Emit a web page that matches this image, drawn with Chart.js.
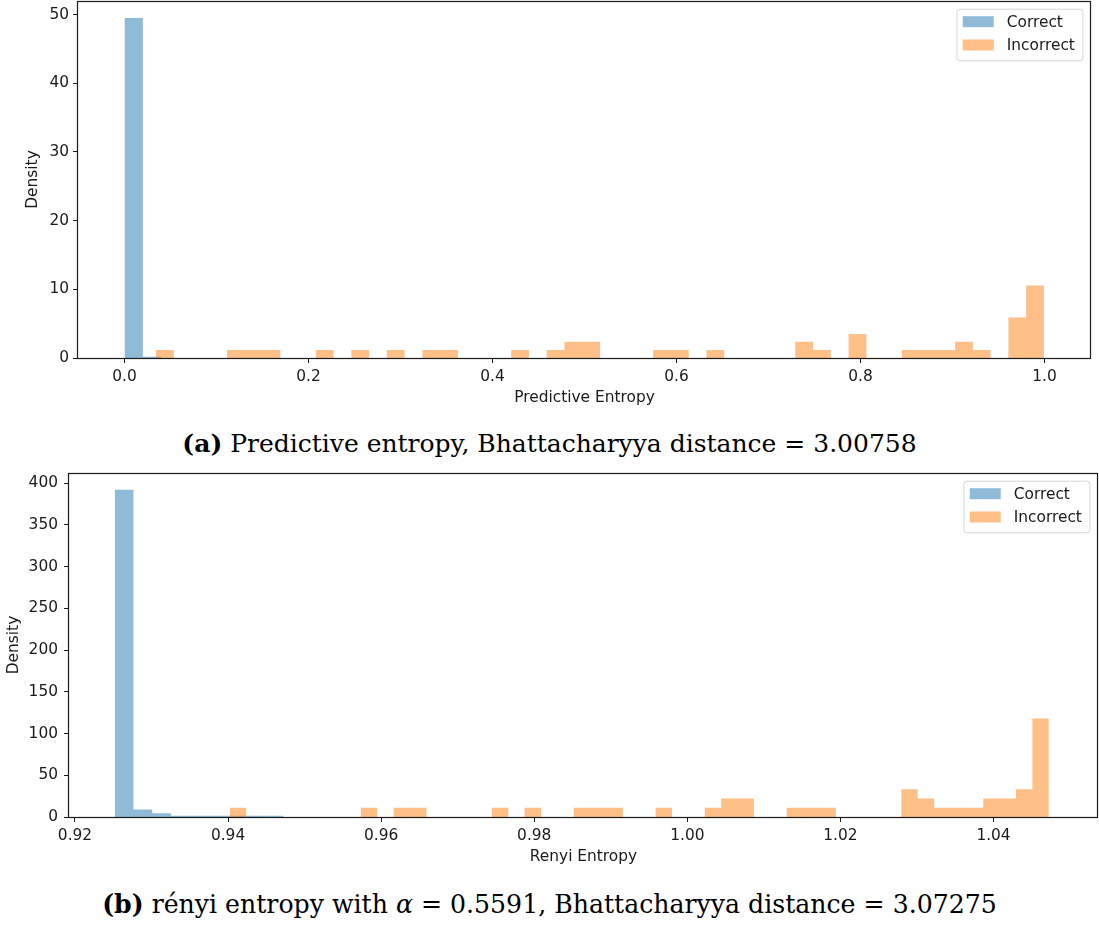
<!DOCTYPE html>
<html lang="en">
<head>
<meta charset="utf-8"/>
<title>Entropy histograms</title>
<script src="https://cdn.jsdelivr.net/npm/chart.js@4.4.0/dist/chart.umd.min.js"></script>
<style>
  body { margin: 0; background: #fff; width: 1099px; height: 931px; position: relative; overflow: hidden; }
  canvas { position: absolute; left: 0; }
  .caption { position: absolute; left: 0; width: 1099px; text-align: center; white-space: nowrap;
             font-family: "DejaVu Serif", serif; font-size: 25px; line-height: 30px; color: #000; }
</style>
</head>
<body>
<canvas id="peChart" width="1099" height="415" style="top:0px"></canvas>
<div class="caption" style="top:429px"><b>(a)</b> Predictive entropy, Bhattacharyya distance = 3.00758</div>
<canvas id="reChart" width="1099" height="404" style="top:470px"></canvas>
<div class="caption" style="top:889px; font-size:25.2px"><b>(b)</b> rényi entropy with <i>α</i> = 0.5591, Bhattacharyya distance = 3.07275</div>

<script>
const ink = '#1a1a1a';
const correctColor = 'rgba(31, 119, 180, 0.5)';
const incorrectColor = 'rgba(255, 127, 14, 0.5)';
const axisFont = { family: 'DejaVu Sans', size: 15.4 };

// predictive entropy, density per bin
const peCorrectStart = 0.0;
const peCorrectWidth = 0.02;
const peCorrect = [49.5, 0.2];
const peIncorrectStart = 0.0343;
const peIncorrectWidth = 0.0193;
const peIncorrect = [
  1.18, 0, 0, 0, 1.18, 1.18, 1.18, 0, 0, 1.18,
  0, 1.18, 0, 1.18, 0, 1.18, 1.18, 0, 0, 0,
  1.18, 0, 1.18, 2.35, 2.35, 0, 0, 0, 1.18, 1.18,
  0, 1.18, 0, 0, 0, 0, 2.35, 1.18, 0, 3.5,
  0, 0, 1.18, 1.18, 1.18, 2.35, 1.18, 0, 5.9, 10.55
];
const peTicks = [0, 0.2, 0.4, 0.6, 0.8, 1.0];

// renyi entropy, density per bin
const reCorrectStart = 0.92519;
const reCorrectWidth = 0.00245;
const reCorrect = [392, 8.9, 4.6, 1.5, 1.5, 1.5, 1.5, 1.5, 1.5];
const reIncorrectStart = 0.94022;
const reIncorrectWidth = 0.00214;
const reIncorrect = [
  11.1, 0, 0, 0, 0, 0, 0, 0, 11.1, 0,
  11.1, 11.1, 0, 0, 0, 0, 11.1, 0, 11.1, 0,
  0, 11.1, 11.1, 11.1, 0, 0, 11.1, 0, 0, 11.1,
  22.2, 22.2, 0, 0, 11.1, 11.1, 11.1, 0, 0, 0,
  0, 33.1, 22.2, 11.1, 11.1, 11.1, 22.2, 22.2, 33.1, 118
];
const reTicks = [0.92, 0.94, 0.96, 0.98, 1.00, 1.02, 1.04];

// histogram outline: one point per left bin edge, closed at the last right edge
function binEdges(start, width, heights) {
  const pts = heights.map((h, i) => ({ x: start + i * width, y: h }));
  pts.push({ x: start + heights.length * width, y: 0 });
  return pts;
}

// four spines drawn over the bars
const frame = {
  id: 'frame',
  afterDatasetsDraw(chart) {
    const { ctx, chartArea: a } = chart;
    const l = Math.round(a.left) - 0.5, t = Math.round(a.top) + 0.5;
    const r = Math.round(a.right) - 0.5, b = Math.round(a.bottom) + 0.5;
    ctx.save();
    ctx.strokeStyle = ink;
    ctx.lineWidth = 1.2;
    ctx.strokeRect(l, t, r - l, b - t);
    ctx.restore();
  }
};

// legend box in the upper right corner of the axes
const cornerLegend = {
  id: 'cornerLegend',
  afterDraw(chart) {
    const { ctx, chartArea: a } = chart;
    const sets = chart.data.datasets;
    ctx.save();
    ctx.font = axisFont.size + 'px "' + axisFont.family + '"';
    const textW = Math.max(...sets.map(d => ctx.measureText(d.label).width));
    const patchW = 31, patchH = 11, rowH = 23.3;
    const w = 6.3 + patchW + 13 + textW + 7.5;
    const h = 13 + rowH * (sets.length - 1) + 15.3;
    const x = a.right - 8.6 - w;
    const y = a.top + 7.7;
    ctx.beginPath();
    ctx.roundRect(x + 0.5, y + 0.5, w, h, 3);
    ctx.fillStyle = 'rgba(255,255,255,0.8)';
    ctx.fill();
    ctx.strokeStyle = '#d6d6d6';
    ctx.lineWidth = 1;
    ctx.stroke();
    sets.forEach((d, i) => {
      const cy = y + 13 + i * rowH;
      ctx.fillStyle = d.backgroundColor;
      ctx.fillRect(x + 6.3, cy - patchH / 2, patchW, patchH);
      ctx.fillStyle = ink;
      ctx.textBaseline = 'middle';
      ctx.fillText(d.label, x + 6.3 + patchW + 13, cy + 1);
    });
    ctx.restore();
  }
};

function histogram(id, cfg) {
  const tickMarks = { drawOnChartArea: false, drawTicks: true, tickLength: 5, color: ink, lineWidth: 1, offset: false };
  const bars = { stepped: 'before', fill: 'origin', borderWidth: 0, borderColor: 'rgba(0,0,0,0)',
                 pointRadius: 0, pointHoverRadius: 0 };
  return new Chart(document.getElementById(id), {
    type: 'line',
    data: {
      datasets: [
        // order 1 is painted first, so Incorrect lies on top of Correct
        { label: 'Correct', order: 1, backgroundColor: correctColor, ...bars,
          data: binEdges(cfg.correctStart, cfg.correctWidth, cfg.correct) },
        { label: 'Incorrect', order: 0, backgroundColor: incorrectColor, ...bars,
          data: binEdges(cfg.incorrectStart, cfg.incorrectWidth, cfg.incorrect) }
      ]
    },
    options: {
      responsive: false,
      animation: false,
      layout: { padding: cfg.padding },
      plugins: { legend: { display: false }, tooltip: { enabled: false } },
      scales: {
        x: {
          type: 'linear', min: cfg.xMin, max: cfg.xMax, offset: false,
          grid: tickMarks, border: { display: false },
          afterBuildTicks: s => { s.ticks = cfg.xTicks.map(v => ({ value: v })); },
          ticks: { font: axisFont, color: ink, padding: 5, maxRotation: 0, autoSkip: false,
                   callback: v => v.toFixed(cfg.decimals) },
          title: { display: true, text: cfg.xTitle, font: axisFont, color: ink, padding: { bottom: 8 } },
          afterFit: s => { s.height = 57; s.paddingLeft = 0; s.paddingRight = 0; }
        },
        y: {
          min: 0, max: cfg.yMax,
          grid: tickMarks, border: { display: false },
          ticks: { font: axisFont, color: ink, padding: cfg.yPad, stepSize: cfg.yStep, includeBounds: false },
          title: { display: true, text: 'Density', font: axisFont, color: ink, padding: { top: cfg.yTitlePad } },
          afterFit: s => { s.width = cfg.yWidth; s.paddingTop = 0; s.paddingBottom = 0; }
        }
      }
    },
    plugins: [frame, cornerLegend]
  });
}

histogram('peChart', {
  correctStart: peCorrectStart, correctWidth: peCorrectWidth, correct: peCorrect,
  incorrectStart: peIncorrectStart, incorrectWidth: peIncorrectWidth, incorrect: peIncorrect,
  xMin: -0.0505, xMax: 1.0505, xTicks: peTicks, decimals: 1, xTitle: 'Predictive Entropy',
  yMax: 51.98, yStep: 10, yWidth: 78, yPad: 4, yTitlePad: 24,
  padding: { top: 1, right: 8, bottom: 0, left: 0 }
});

histogram('reChart', {
  correctStart: reCorrectStart, correctWidth: reCorrectWidth, correct: reCorrect,
  incorrectStart: reIncorrectStart, incorrectWidth: reIncorrectWidth, incorrect: reIncorrect,
  xMin: 0.91922, xMax: 1.05365, xTicks: reTicks, decimals: 2, xTitle: 'Renyi Entropy',
  yMax: 412, yStep: 50, yWidth: 69, yPad: 6, yTitlePad: 5,
  padding: { top: 3, right: 1, bottom: 0, left: 0 }
});
</script>
</body>
</html>
